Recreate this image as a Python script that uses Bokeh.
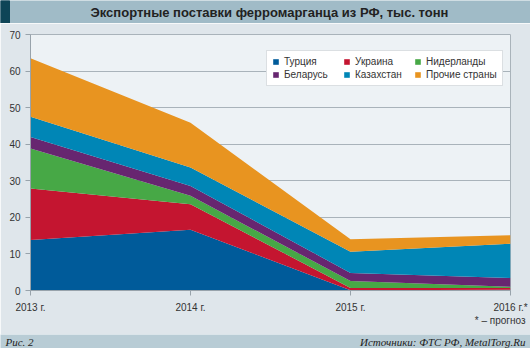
from bokeh.plotting import figure
from bokeh.models import Range1d, Legend, LegendItem, FixedTicker, ColumnDataSource, Title
from bokeh.layouts import column
from bokeh.embed import file_html
from bokeh.resources import INLINE
from bokeh.core.properties import value

# ---- data ----
years = [2013, 2014, 2015, 2016]
tick_labels = ["2013 г.", "2014 г.", "2015 г.", "2016 г.*"]
series_names = ["Турция", "Украина", "Нидерланды", "Беларусь", "Казахстан", "Прочие страны"]
turkey = [13.8, 16.6, 0.1, 0.2]
ukraine = [14.1, 7.0, 0.6, 0.5]
netherlands = [10.9, 2.3, 1.9, 0.3]
belarus = [3.2, 2.7, 2.2, 2.4]
kazakhstan = [5.5, 5.0, 5.8, 9.4]
others = [16.0, 12.3, 3.4, 2.3]
y_ticks = [0, 10, 20, 30, 40, 50, 60, 70]

title_text = "Экспортные поставки ферромарганца из РФ, тыс. тонн"
note_text = "* – прогноз"
fig_text = "Рис. 2"
source_text = "Источники: ФТС РФ, MetalTorg.Ru"

colors = ["#005b9a", "#c41530", "#47a846", "#672670", "#0086b6", "#e89420"]

source = ColumnDataSource(dict(year=years, **{
    series_names[0]: turkey, series_names[1]: ukraine, series_names[2]: netherlands,
    series_names[3]: belarus, series_names[4]: kazakhstan, series_names[5]: others}))

SANS = "Liberation Sans"
SERIF = "Liberation Serif"
TITLE_BG = "#a0bbc7"
FOOT_BG = "#b8ccd5"

# ---- title bar ----
t = figure(width=530, height=23, x_range=Range1d(0, 530), y_range=Range1d(0, 23),
           output_backend="svg", toolbar_location=None, min_border=0, frame_align=False,
           background_fill_color=TITLE_BG, border_fill_color=TITLE_BG,
           outline_line_color=None, x_axis_location=None, y_axis_location=None)
t.grid.visible = False
t.quad(left=0, right=9, bottom=0, top=23, color="#0e4557")
t.text(x=[269], y=[11.5], text=[title_text], text_font=value(SANS), text_font_style="bold",
       text_font_size="13px", text_align="center", text_baseline="middle", text_color="#222222")

# ---- main chart ----
p = figure(width=530, height=311, x_range=Range1d(2013, 2016), y_range=Range1d(0, 70),
           output_backend="svg", toolbar_location=None, frame_align=False,
           min_border_left=30, min_border_right=20, min_border_top=11, min_border_bottom=44,
           background_fill_color="#edf2f5", border_fill_color="#dfe6eb",
           outline_line_color="#a9b3ba")

rs = p.varea_stack(stackers=series_names, x="year", color=colors, source=source)

p.xgrid.visible = False
p.ygrid.grid_line_color = "#a9b3ba"
p.ygrid.ticker = FixedTicker(ticks=y_ticks)

p.xaxis.ticker = FixedTicker(ticks=years)
p.xaxis.major_label_overrides = {y: l for y, l in zip(years, tick_labels)}
p.yaxis.ticker = FixedTicker(ticks=y_ticks)
for ax in (p.xaxis[0], p.yaxis[0]):
    ax.axis_line_color = "#98a3ab"
    ax.major_tick_line_color = "#98a3ab"
    ax.minor_tick_line_color = None
    ax.major_tick_in = 0
    ax.major_tick_out = 5
    ax.major_label_text_font = SANS
    ax.major_label_text_font_size = "10px"
    ax.major_label_text_color = "#333333"
p.yaxis.major_label_standoff = 5
p.xaxis.major_label_standoff = 6

# legend filled column by column (2 rows x 3 columns)
order = [0, 3, 1, 4, 2, 5]
items = [LegendItem(label=series_names[i], renderers=[rs[i]]) for i in order]
legend = Legend(items=items, ncols=3, location=(236, 204),
                background_fill_color="white", background_fill_alpha=1.0,
                border_line_color="#b8c0c6", label_text_font=SANS,
                label_text_font_size="10px", label_text_color="#333333",
                glyph_width=7, glyph_height=7, label_standoff=5, padding=5,
                spacing=2, label_height=11, label_width=57, margin=0)
p.add_layout(legend)

note = Title(text=note_text, align="right", offset=-15, standoff=-5,
             text_font=SANS, text_font_size="10px", text_font_style="normal",
             text_color="#333333")
p.add_layout(note, "below")

# ---- footer ----
f = figure(width=530, height=14, x_range=Range1d(0, 530), y_range=Range1d(0, 14),
           output_backend="svg", toolbar_location=None, min_border=0, frame_align=False,
           background_fill_color=FOOT_BG, border_fill_color=FOOT_BG,
           outline_line_color=None, x_axis_location=None, y_axis_location=None)
f.grid.visible = False
f.text(x=[5], y=[7], text=[fig_text], text_font=value(SERIF), text_font_style="italic",
       text_font_size="11px", text_align="left", text_baseline="middle", text_color="#222222")
f.text(x=[525], y=[7], text=[source_text], text_font=value(SERIF), text_font_style="italic",
       text_font_size="11px", text_align="right", text_baseline="middle", text_color="#222222")

layout = column(t, p, f, spacing=0)
open("out.html", "w").write(file_html(layout, INLINE))
